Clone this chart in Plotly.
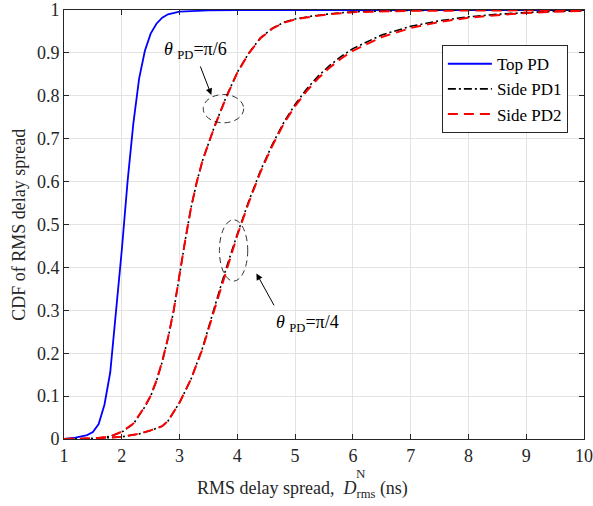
import plotly.graph_objects as go

# ---------------- data ----------------
x_top = [1.0, 1.2, 1.4, 1.5, 1.6, 1.7, 1.8, 1.9, 2.0, 2.1, 2.2, 2.3, 2.4, 2.5, 2.6, 2.7, 2.8, 3.0, 3.5, 4.0, 10.0]
cdf_top = [0.0, 0.003, 0.009, 0.016, 0.035, 0.08, 0.155, 0.29, 0.44, 0.6, 0.735, 0.84, 0.905, 0.945, 0.968, 0.982, 0.99, 0.996, 0.999, 1.0, 1.0]

x_pi6 = [1.0, 1.5, 1.8, 2.0, 2.2, 2.4, 2.5, 2.6, 2.7, 2.8, 2.9, 3.0, 3.1, 3.2, 3.3, 3.4, 3.5, 3.6, 3.8, 4.0, 4.2, 4.4, 4.6, 4.8, 5.0, 5.3, 5.6, 6.0, 7.0, 8.0, 10.0]
cdf_pi6_pd1 = [0.0, 0.001, 0.006, 0.016, 0.035, 0.075, 0.1, 0.135, 0.18, 0.235, 0.3, 0.385, 0.465, 0.54, 0.6, 0.65, 0.69, 0.727, 0.795, 0.855, 0.9, 0.935, 0.957, 0.971, 0.979, 0.986, 0.991, 0.996, 0.999, 1.0, 1.0]
cdf_pi6_pd2 = [0.0, 0.001, 0.006, 0.017, 0.036, 0.076, 0.101, 0.136, 0.181, 0.236, 0.301, 0.385, 0.465, 0.54, 0.6, 0.65, 0.69, 0.726, 0.794, 0.854, 0.899, 0.934, 0.956, 0.97, 0.978, 0.985, 0.99, 0.995, 0.998, 0.999, 1.0]

x_pi4 = [1.0, 1.5, 2.0, 2.3, 2.5, 2.7, 2.8, 2.9, 3.0, 3.2, 3.4, 3.6, 3.8, 4.0, 4.2, 4.4, 4.6, 4.8, 5.0, 5.2, 5.4, 5.6, 5.8, 6.0, 6.5, 7.0, 7.5, 8.0, 8.5, 9.0, 9.5, 10.0]
cdf_pi4_pd1 = [0.0, 0.001, 0.005, 0.012, 0.02, 0.03, 0.042, 0.062, 0.085, 0.14, 0.213, 0.305, 0.395, 0.478, 0.555, 0.625, 0.685, 0.737, 0.78, 0.816, 0.846, 0.871, 0.892, 0.91, 0.942, 0.962, 0.975, 0.984, 0.99, 0.994, 0.997, 0.998]
cdf_pi4_pd2 = [0.0, 0.001, 0.005, 0.012, 0.02, 0.03, 0.042, 0.062, 0.085, 0.14, 0.211, 0.3, 0.39, 0.475, 0.552, 0.622, 0.682, 0.734, 0.776, 0.811, 0.841, 0.866, 0.887, 0.905, 0.937, 0.958, 0.972, 0.982, 0.988, 0.993, 0.996, 0.998]

x_ticks = [1, 2, 3, 4, 5, 6, 7, 8, 9, 10]
y_ticks = [0, 0.1, 0.2, 0.3, 0.4, 0.5, 0.6, 0.7, 0.8, 0.9, 1]
y_tick_labels = ["0", "0.1", "0.2", "0.3", "0.4", "0.5", "0.6", "0.7", "0.8", "0.9", "1"]

FONT = "Times New Roman"

fig = go.Figure()
fig.add_trace(go.Scatter(x=x_top, y=cdf_top, mode="lines", name="Top PD",
                         line=dict(color="#0000ff", width=1.8)))
fig.add_trace(go.Scatter(x=x_pi6, y=cdf_pi6_pd1, mode="lines", name="Side PD1",
                         line=dict(color="black", width=1.6, dash="8px,3px,2px,3px"),
                         legendgroup="pd1"))
fig.add_trace(go.Scatter(x=x_pi4, y=cdf_pi4_pd1, mode="lines", name="Side PD1",
                         line=dict(color="black", width=1.6, dash="8px,3px,2px,3px"),
                         legendgroup="pd1", showlegend=False))
fig.add_trace(go.Scatter(x=x_pi6, y=cdf_pi6_pd2, mode="lines", name="Side PD2",
                         line=dict(color="#ff0000", width=2, dash="10px,6px"),
                         legendgroup="pd2"))
fig.add_trace(go.Scatter(x=x_pi4, y=cdf_pi4_pd2, mode="lines", name="Side PD2",
                         line=dict(color="#ff0000", width=2, dash="10px,6px"),
                         legendgroup="pd2", showlegend=False))

# ellipses
fig.add_shape(type="circle", xref="x", yref="y", x0=3.41, x1=4.11, y0=0.737, y1=0.803,
              line=dict(color="black", width=0.8, dash="6px,4px"))
fig.add_shape(type="circle", xref="x", yref="y", x0=3.69, x1=4.18, y0=0.368, y1=0.511,
              line=dict(color="black", width=0.8, dash="6px,4px"))

# arrows
fig.add_annotation(x=3.55, y=0.802, ax=3.35, ay=0.872, xref="x", yref="y", axref="x", ayref="y",
                   text="", showarrow=True, arrowhead=2, arrowsize=1.3, arrowwidth=1, arrowcolor="black")
fig.add_annotation(x=4.33, y=0.386, ax=4.65, ay=0.308, xref="x", yref="y", axref="x", ayref="y",
                   text="", showarrow=True, arrowhead=2, arrowsize=1.3, arrowwidth=1, arrowcolor="black")

# labels
fig.add_annotation(x=2.70, y=0.905, xref="x", yref="y", xanchor="left", yanchor="middle",
                   text="<i>θ</i> <sub>PD</sub>=π/6", showarrow=False,
                   font=dict(family=FONT, size=18, color="black"))
fig.add_annotation(x=4.64, y=0.27, xref="x", yref="y", xanchor="left", yanchor="middle",
                   text="<i>θ</i> <sub>PD</sub>=π/4", showarrow=False,
                   font=dict(family=FONT, size=18, color="black"))

# x-axis title pieces
fig.add_annotation(x=0.459, y=-0.118, xref="paper", yref="paper", xanchor="center", yanchor="middle",
                   text="RMS delay spread,  <i>D</i><sub>rms</sub> (ns)", showarrow=False,
                   font=dict(family=FONT, size=18, color="#262626"))
fig.add_annotation(x=0.572, y=-0.08, xref="paper", yref="paper", xanchor="center", yanchor="middle",
                   text="N", showarrow=False,
                   font=dict(family=FONT, size=13, color="#262626"))
# y-axis title
fig.add_annotation(x=-0.088, y=0.5, xref="paper", yref="paper", xanchor="center", yanchor="middle",
                   text="CDF of RMS delay spread", showarrow=False, textangle=-90,
                   font=dict(family=FONT, size=18, color="#262626"))

axis_common = dict(showline=True, linecolor="#262626", linewidth=1, mirror="ticks",
                   ticks="inside", ticklen=5, tickcolor="#262626",
                   showgrid=True, gridcolor="#e3e3e3", gridwidth=1, zeroline=False,
                   automargin=False,
                   tickfont=dict(family=FONT, size=18, color="#262626"))

fig.update_xaxes(range=[1, 10], tickvals=x_ticks, ticktext=[str(v) for v in x_ticks], **axis_common)
fig.update_yaxes(range=[0, 1], tickvals=y_ticks, ticktext=y_tick_labels, **axis_common)

fig.update_layout(
    width=593, height=506,
    margin=dict(l=64, r=9, t=10, b=67),
    paper_bgcolor="white", plot_bgcolor="white",
    font=dict(family=FONT, size=18, color="black"),
    legend=dict(x=0.969, y=0.918, xanchor="right", yanchor="top",
                bgcolor="white", bordercolor="#262626", borderwidth=1,
                font=dict(family=FONT, size=17, color="black"),
                tracegroupgap=0, itemwidth=44),
    showlegend=True,
)

fig.write_html("out.html", config={"displayModeBar": False},
               post_script="document.body.style.margin='0';document.body.style.padding='0';")
